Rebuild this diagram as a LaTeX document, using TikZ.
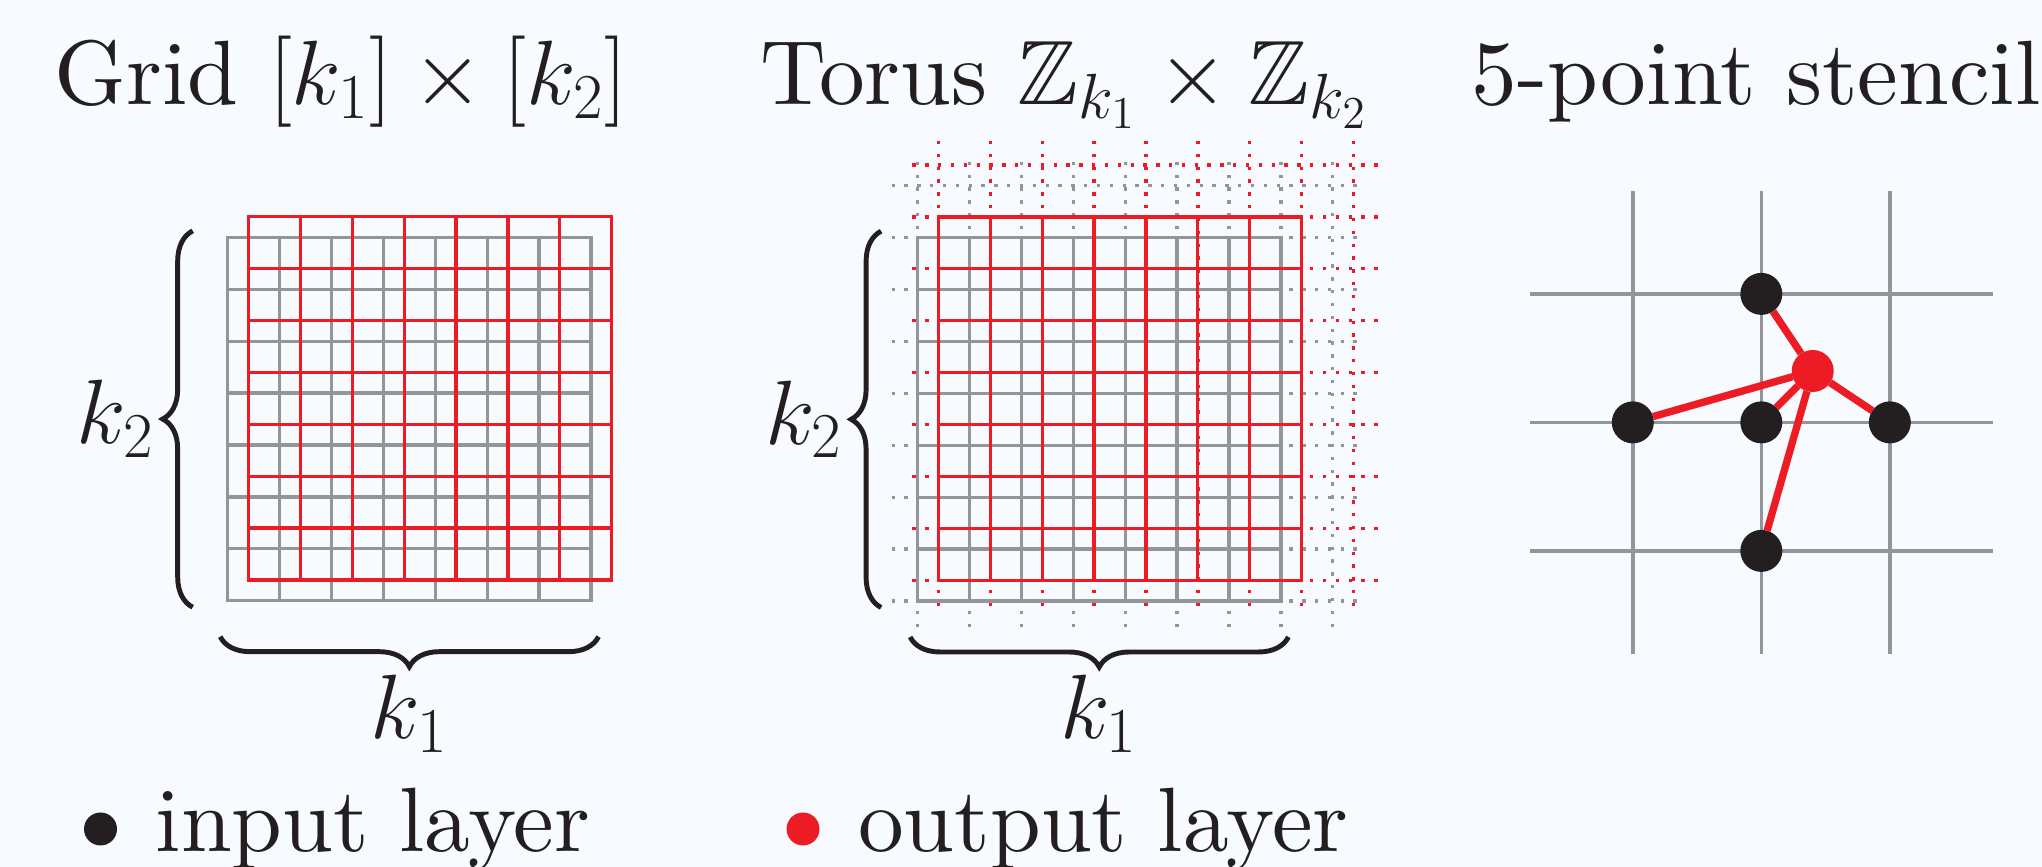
\RequirePackage{fix-cm}
\documentclass[tikz,border=0pt]{standalone}
\usepackage{amssymb}
\usepackage{fontspec}
\setmainfont{lmroman10-regular.otf}
\usetikzlibrary{positioning,calc,decorations.pathreplacing}

\definecolor{bgblue}{RGB}{247,251,255}
\definecolor{gridgray}{RGB}{147,149,152}
\definecolor{outred}{RGB}{237,28,36}
\definecolor{inkblack}{RGB}{35,31,32}

\begin{document}
\begin{tikzpicture}[
  font=\fontsize{26}{31}\selectfont,
  inl/.style={draw=gridgray, line width=0.95pt, line cap=rect},
  outl/.style={draw=outred, line width=0.9pt, line cap=rect},
  wrapin/.style={draw=gridgray, line width=0.95pt, dash pattern=on 0.95pt off 2.7pt},
  wrapout/.style={draw=outred, line width=0.95pt, dash pattern=on 0.95pt off 2.7pt},
  brc/.style={draw=inkblack, line width=1.4pt, decorate,
    decoration={brace, amplitude=0.3cm}},
  ttl/.style={anchor=base, text=inkblack, inner sep=0pt},
  lbl/.style={text=inkblack, inner sep=0pt},
  indot/.style={circle, fill=inkblack, minimum size=0.42cm,
    inner sep=0pt, outer sep=0pt},
  outdot/.style={circle, fill=outred, minimum size=0.42cm,
    inner sep=0pt, outer sep=0pt},
  edg/.style={draw=outred, line width=2.1pt}
]
  \path[use as bounding box, fill=bgblue] (0,0) rectangle (20.42,8.67);

  % titles
  \node[ttl] (t-grid) at (3.41,7.62) {Grid $[k_1]\times[k_2]$};
  \node[ttl] (t-torus) at (10.645,7.62) {Torus $\mathbb{Z}_{k_1}\times\mathbb{Z}_{k_2}$};
  \node[ttl] (t-sten) at (17.56,7.62) {5-point stencil};

  % grid [k1] x [k2]
  \coordinate (g-sw) at (2.277,2.663);
  \coordinate (g-ne) at (5.91,6.296);
  \begin{scope}[shift={(g-sw)}, x=0.519cm, y=0.519cm]
    \foreach \i in {0,...,7} {
      \draw[inl] (\i,0) -- (\i,7);
      \draw[inl] (0,\i) -- (7,\i);
    }
    \foreach \i in {0,...,7} {
      \draw[outl] (\i+0.4,0.4) -- (\i+0.4,7.4);
      \draw[outl] (0.4,\i+0.4) -- (7.4,\i+0.4);
    }
  \end{scope}
  \draw[brc] ($(g-sw)+(-0.35,-0.065)$) -- ($(g-sw |- g-ne)+(-0.35,0.065)$)
    node[lbl, midway, left=0.36cm] (g-k2) {$k_2$};
  \draw[brc] ($(g-ne |- g-sw)+(0.075,-0.36)$) -- ($(g-sw)+(-0.075,-0.36)$)
    node[lbl, midway, below=0.36cm] (g-k1) {$k_1$};

  % torus, wrap-around edges dotted
  \coordinate (t-sw) at (9.176,2.66);
  \coordinate (t-ne) at (12.809,6.293);
  \begin{scope}[shift={(t-sw)}, x=0.519cm, y=0.519cm]
    \foreach \i in {0,...,8} {
      \draw[wrapin] (\i,-0.5) -- (\i,8.5);
      \draw[wrapin] (-0.5,\i) -- (8.5,\i);
    }
    \foreach \i in {0,...,7} {
      \draw[inl] (\i,0) -- (\i,7);
      \draw[inl] (0,\i) -- (7,\i);
    }
    \foreach \i in {0,...,8} {
      \draw[wrapout] (\i+0.4,-0.1) -- (\i+0.4,8.9);
      \draw[wrapout] (-0.1,\i+0.4) -- (8.9,\i+0.4);
    }
    \foreach \i in {0,...,7} {
      \draw[outl] (\i+0.4,0.4) -- (\i+0.4,7.4);
      \draw[outl] (0.4,\i+0.4) -- (7.4,\i+0.4);
    }
  \end{scope}
  \draw[brc] ($(t-sw)+(-0.365,-0.065)$) -- ($(t-sw |- t-ne)+(-0.365,0.065)$)
    node[lbl, midway, left=0.36cm] (t-k2) {$k_2$};
  \draw[brc] ($(t-ne |- t-sw)+(0.075,-0.36)$) -- ($(t-sw)+(-0.075,-0.36)$)
    node[lbl, midway, below=0.36cm] (t-k1) {$k_1$};

  % stencil
  \begin{scope}[shift={(17.613,4.446)}, x=1.285cm, y=1.285cm]
    \foreach \i in {-1,0,1} {
      \draw[inl, line cap=butt] (\i,-1.8) -- (\i,1.8);
      \draw[inl, line cap=butt] (-1.8,\i) -- (1.8,\i);
    }
    \node[indot] (s-n) at (0,1) {};
    \node[indot] (s-w) at (-1,0) {};
    \node[indot] (s-c) at (0,0) {};
    \node[indot] (s-e) at (1,0) {};
    \node[indot] (s-s) at (0,-1) {};
    \node[outdot] (s-o) at (0.4,0.4) {};
  \end{scope}
  \foreach \p in {n,w,c,e,s}
    \draw[edg] (s-o) -- (s-\p);

  % legend
  \node[indot, minimum size=0.33cm] (leg-in) at (1.005,0.38) {};
  \node[lbl, right=0.38cm of leg-in] (leg-in-txt) {input layer};
  \node[outdot, minimum size=0.33cm] (leg-out) at (8.03,0.38) {};
  \node[lbl, right=0.38cm of leg-out] (leg-out-txt) {output layer};
\end{tikzpicture}
\end{document}
